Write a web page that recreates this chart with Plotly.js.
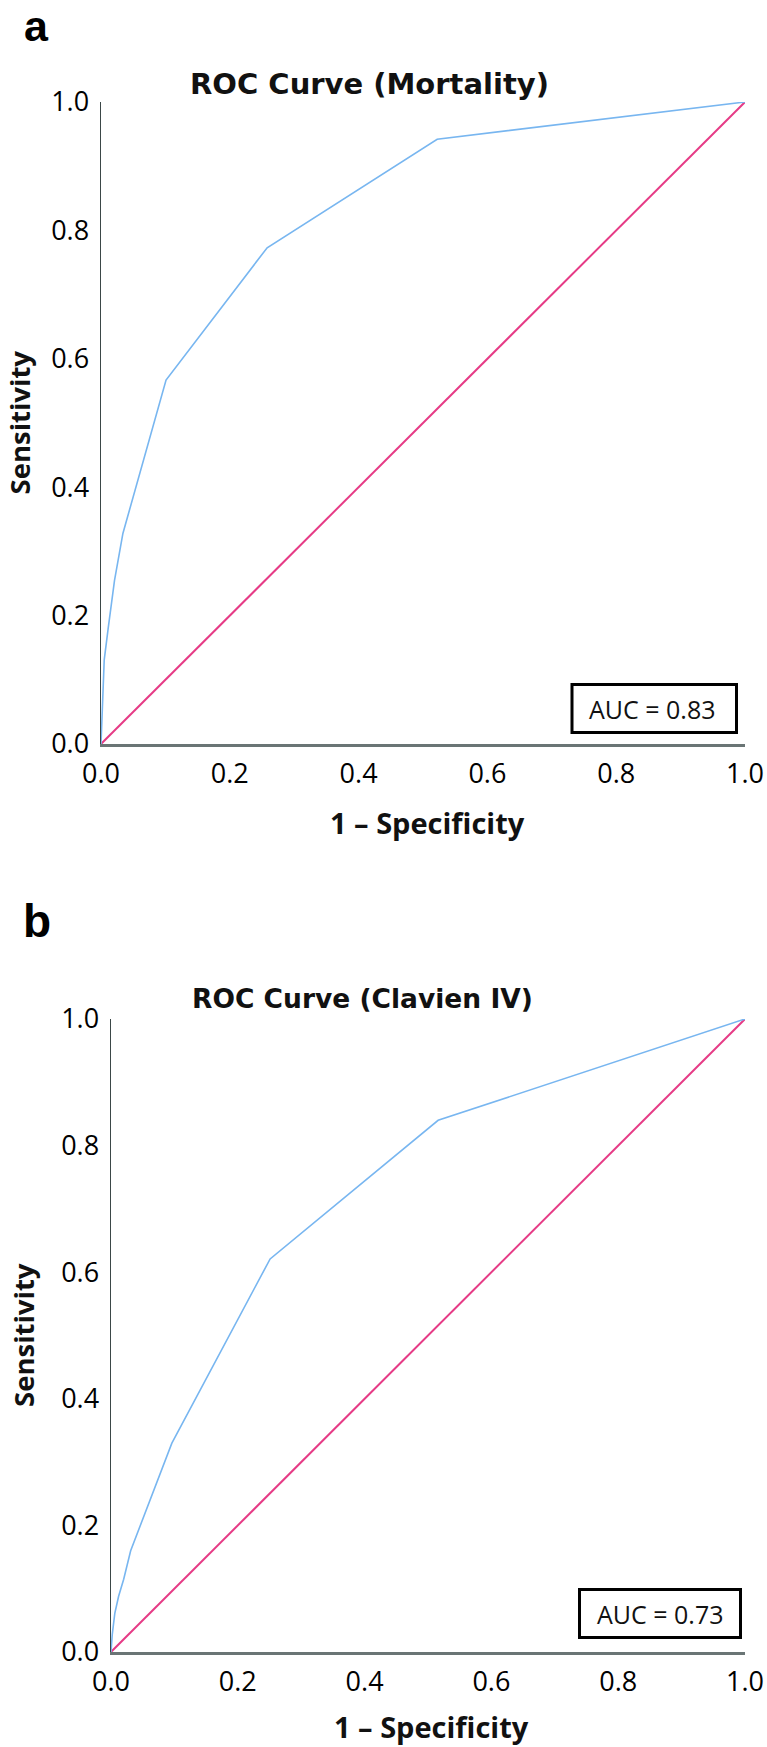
<!DOCTYPE html>
<html><head><meta charset="utf-8">
<script src="https://cdn.plot.ly/plotly-3.0.1.min.js"></script>
<style>html,body{margin:0;padding:0;background:#fff}#chart{width:767px;height:1747px}</style>
</head><body><div id="chart"></div>
<script>
// ---- data ----
const mortalityFPR = [0, 0.002, 0.005, 0.011, 0.021, 0.034, 0.101, 0.258, 0.522, 1];
const mortalityTPR = [0, 0.061, 0.131, 0.179, 0.255, 0.328, 0.567, 0.773, 0.942, 1];
const clavienFPR = [0, 0.002, 0.006, 0.012, 0.020, 0.031, 0.096, 0.251, 0.516, 1];
const clavienTPR = [0, 0.028, 0.061, 0.088, 0.115, 0.160, 0.330, 0.621, 0.840, 1];
const referenceX = [0, 1];
const referenceY = [0, 1];
const tickVals = [0, 0.2, 0.4, 0.6, 0.8, 1.0];
const tickLabels = ['0.0', '0.2', '0.4', '0.6', '0.8', '1.0'];
const panelTitles = ['ROC Curve (Mortality)', 'ROC Curve (Clavien IV)'];
const panelLetters = ['a', 'b'];
const aucLabels = ['AUC = 0.83', 'AUC = 0.73'];
const xTitle = '1 \u2013 Specificity';
const yTitle = 'Sensitivity';

// ---- layout helpers (pixel -> paper) ----
const W = 767, H = 1747;
const px = x => x / W;
const py = y => 1 - y / H;

const BLUE = '#78b6f0';
const PINK = '#e63b86';

function xAxis(l, r, anchor) {
  return {
    domain: [px(l), px(r)], anchor: anchor, range: [0, 1],
    tickvals: tickVals, ticktext: tickLabels, ticks: '',
    showgrid: false, zeroline: false, showline: true,
    linecolor: '#6a7575', linewidth: 3,
    tickfont: {family: 'Open Sans', size: 27, color: '#000', weight: 500},
    ticklabelstandoff: 4, fixedrange: true
  };
}
function yAxis(t, b, anchor) {
  return {
    domain: [py(b), py(t)], anchor: anchor, range: [0, 1],
    tickvals: tickVals, ticktext: tickLabels, ticks: '',
    showgrid: false, zeroline: false, showline: true,
    linecolor: '#3b4747', linewidth: 1.5,
    tickfont: {family: 'Open Sans', size: 27, color: '#000', weight: 500},
    ticklabelstandoff: 5, fixedrange: true
  };
}

const traces = [
  {x: referenceX, y: referenceY, xaxis: 'x', yaxis: 'y', mode: 'lines',
   line: {color: PINK, width: 2}, hoverinfo: 'skip', showlegend: false},
  {x: mortalityFPR, y: mortalityTPR, xaxis: 'x', yaxis: 'y', mode: 'lines',
   line: {color: BLUE, width: 1.6}, name: panelTitles[0], showlegend: false},
  {x: referenceX, y: referenceY, xaxis: 'x2', yaxis: 'y2', mode: 'lines',
   line: {color: PINK, width: 2}, hoverinfo: 'skip', showlegend: false},
  {x: clavienFPR, y: clavienTPR, xaxis: 'x2', yaxis: 'y2', mode: 'lines',
   line: {color: BLUE, width: 1.6}, name: panelTitles[1], showlegend: false}
];

function ann(text, x, y, font, extra) {
  return Object.assign({text: text, x: px(x), y: py(y), xref: 'paper', yref: 'paper',
    xanchor: 'center', yanchor: 'middle', showarrow: false, font: font}, extra || {});
}
const titleFontA = {family: 'DejaVu Sans', size: 29, color: '#111', weight: 700};
const titleFontB = {family: 'DejaVu Sans', size: 26.5, color: '#111', weight: 700};
const xTitleFont = {family: 'Open Sans', size: 29, color: '#111', weight: 700};
const yTitleFont = {family: 'Open Sans', size: 27.5, color: '#111', weight: 700};
const letterFontA = {family: 'Liberation Sans', size: 43, color: '#000', weight: 700};
const letterFontB = {family: 'Liberation Sans', size: 46, color: '#000', weight: 700};
const aucFont = {family: 'Open Sans', size: 25, color: '#111'};

const annotations = [
  ann(panelLetters[0], 36, 25.5, letterFontA),
  ann(panelLetters[1], 37, 921, letterFontB),
  ann(panelTitles[0], 369, 84, titleFontA),
  ann(panelTitles[1], 362, 998, titleFontB),
  ann(xTitle, 427, 822, xTitleFont),
  ann(xTitle, 431, 1726, xTitleFont),
  ann(yTitle, 19.5, 423, yTitleFont, {textangle: -90}),
  ann(yTitle, 23, 1335, yTitleFont, {textangle: -90}),
  ann(aucLabels[0], 652, 709, aucFont),
  ann(aucLabels[1], 660, 1614, aucFont)
];

const shapes = [
  {type: 'rect', xref: 'paper', yref: 'paper', x0: px(572), x1: px(736.5), y0: py(732.5), y1: py(684.5),
   line: {color: '#000', width: 3}, fillcolor: 'rgba(0,0,0,0)'},
  {type: 'rect', xref: 'paper', yref: 'paper', x0: px(579.5), x1: px(740.5), y0: py(1637.5), y1: py(1589.5),
   line: {color: '#000', width: 3}, fillcolor: 'rgba(0,0,0,0)'}
];

const layout = {
  width: W, height: H,
  margin: {l: 0, r: 0, t: 0, b: 0, pad: 0},
  paper_bgcolor: '#fff', plot_bgcolor: '#fff',
  showlegend: false,
  xaxis: xAxis(101, 745, 'y'),
  yaxis: yAxis(102, 744, 'x'),
  xaxis2: xAxis(111, 745, 'y2'),
  yaxis2: yAxis(1019, 1652, 'x2'),
  annotations: annotations,
  shapes: shapes
};

Plotly.newPlot('chart', traces, layout, {staticPlot: true, displayModeBar: false});
</script>
</body></html>
